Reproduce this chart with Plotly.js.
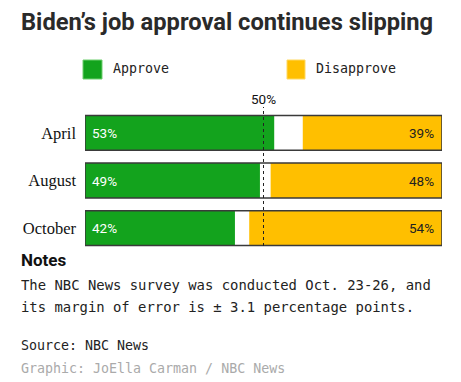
<!DOCTYPE html>
<html>
<head>
<meta charset="utf-8">
<script src="https://cdn.plot.ly/plotly-3.0.1.min.js"></script>
<style>html,body{margin:0;padding:0;background:#fff;}#chart{width:461px;height:382px;}</style>
</head>
<body>
<div id="chart"></div>
<script>
// Data
const months = ["April", "August", "October"];
const approve = [53, 49, 42];
const disapprove = [39, 48, 54];
const total = [100, 100, 100];
const midpoint = 50;

const GREEN = "#13a31d";
const YELLOW = "#ffbf00";
const OUTLINE = "#3a3a3a";

const W = 461, H = 382;
const M = {l: 85, r: 19, t: 109, b: 130};
const pw = W - M.l - M.r, ph = H - M.t - M.b;
const px = x => (x - M.l) / pw;           // pixel -> paper x
const py = y => (H - M.b - y) / ph;       // pixel -> paper y

const traces = [
  {type: "bar", orientation: "h", y: months, x: approve, base: 0,
   marker: {color: GREEN, line: {width: 0}}, width: 0.73, hoverinfo: "skip", name: "Approve"},
  {type: "bar", orientation: "h", y: months, x: disapprove, base: disapprove.map(d => 100 - d),
   marker: {color: YELLOW, line: {width: 0}}, width: 0.73, hoverinfo: "skip", name: "Disapprove"},
  {type: "bar", orientation: "h", y: months, x: total, base: 0,
   marker: {color: "rgba(0,0,0,0)", line: {color: OUTLINE, width: 1.5}}, width: 0.73, hoverinfo: "skip", showlegend: false}
];

const mono = "DejaVu Sans Mono, monospace";
const grot = "Liberation Sans Narrow, Roboto, sans-serif";
const annotations = [];
months.forEach((m, i) => {
  annotations.push({x: 0, y: m, xref: "x", yref: "y", text: approve[i] + "%", showarrow: false,
    xanchor: "left", xshift: 5, font: {family: grot, size: 13.5, color: "#fff"}});
  annotations.push({x: 100, y: m, xref: "x", yref: "y", text: disapprove[i] + "%", showarrow: false,
    xanchor: "right", xshift: -6, font: {family: grot, size: 13.5, color: "#222"}});
});
annotations.push({x: midpoint, xref: "x", y: py(99), yref: "paper", text: midpoint + "%", showarrow: false,
  xanchor: "center", yanchor: "middle", font: {family: grot, size: 13.5, color: "#111"}});
// Title
annotations.push({x: px(19), y: py(22), xref: "paper", yref: "paper", text: "<b>Biden’s job approval continues slipping</b>",
  showarrow: false, xanchor: "left", yanchor: "middle", font: {family: "Roboto, sans-serif", size: 23.7, color: "#2a2a2a"}});
// Legend text
annotations.push({x: px(111), y: py(69), xref: "paper", yref: "paper", text: "Approve", showarrow: false,
  xanchor: "left", yanchor: "middle", font: {family: mono, size: 13.3, color: "#222"}});
annotations.push({x: px(314), y: py(69), xref: "paper", yref: "paper", text: "Disapprove", showarrow: false,
  xanchor: "left", yanchor: "middle", font: {family: mono, size: 13.3, color: "#222"}});
// Notes
annotations.push({x: px(19), y: py(260), xref: "paper", yref: "paper", text: "<b>Notes</b>", showarrow: false,
  xanchor: "left", yanchor: "middle", font: {family: "Roboto, sans-serif", size: 17, color: "#111"}});
annotations.push({x: px(19), y: py(285), xref: "paper", yref: "paper", text: "The NBC News survey was conducted Oct. 23-26, and", showarrow: false,
  xanchor: "left", yanchor: "middle", font: {family: mono, size: 13.9, color: "#222"}});
annotations.push({x: px(19), y: py(307), xref: "paper", yref: "paper", text: "its margin of error is ± 3.1 percentage points.", showarrow: false,
  xanchor: "left", yanchor: "middle", font: {family: mono, size: 13.9, color: "#222"}});
annotations.push({x: px(19), y: py(345), xref: "paper", yref: "paper", text: "Source: NBC News", showarrow: false,
  xanchor: "left", yanchor: "middle", font: {family: mono, size: 13.3, color: "#222"}});
annotations.push({x: px(19), y: py(368), xref: "paper", yref: "paper", text: "Graphic: JoElla Carman / NBC News", showarrow: false,
  xanchor: "left", yanchor: "middle", font: {family: mono, size: 13.3, color: "#aaa"}});

const shapes = [
  {type: "line", xref: "x", x0: midpoint, x1: midpoint, yref: "paper", y0: py(246), y1: py(107),
   line: {color: "#222", width: 1, dash: "3px,3px"}, layer: "above"},
  {type: "rect", xref: "paper", yref: "paper", x0: px(83), x1: px(102), y0: py(79), y1: py(60),
   fillcolor: GREEN, line: {color: "#6fcf6f", width: 1}},
  {type: "rect", xref: "paper", yref: "paper", x0: px(287), x1: px(305), y0: py(79), y1: py(60),
   fillcolor: YELLOW, line: {color: "#ffd860", width: 1}}
];

const layout = {
  width: W, height: H, margin: M,
  paper_bgcolor: "#fff", plot_bgcolor: "#fff",
  barmode: "overlay", showlegend: false,
  xaxis: {range: [0, 100], showgrid: false, zeroline: false, showticklabels: false, ticks: "", fixedrange: true},
  yaxis: {autorange: "reversed", showgrid: false, zeroline: false, ticks: "", ticklabelstandoff: 8,
    tickfont: {family: "Liberation Serif, serif", size: 16.5, color: "#111"}},
  annotations: annotations, shapes: shapes
};

Plotly.newPlot("chart", traces, layout, {staticPlot: true, displayModeBar: false});
</script>
</body>
</html>
